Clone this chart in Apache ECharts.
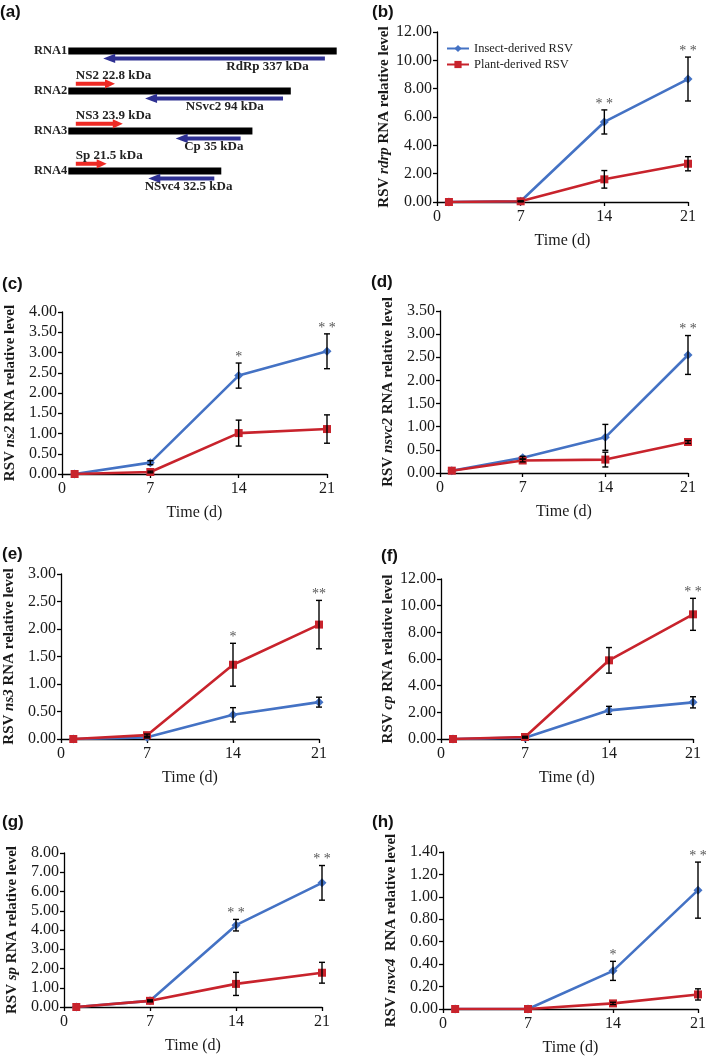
<!DOCTYPE html>
<html><head><meta charset="utf-8">
<script src="https://cdn.jsdelivr.net/npm/echarts@6/dist/echarts.min.js"></script>
<style>html,body{margin:0;padding:0;background:#fff}#c{width:709px;height:1057px}</style>
</head><body><div id="c"></div>
<script>
// ================= DATA =================
const days = [1, 7, 14, 21];
const seriesNames = ['Insect-derived RSV', 'Plant-derived RSV'];

// (b) rdrp
const rdrpInsect = [0, 0.05, 5.65, 8.68];
const rdrpInsectErr = [0, 0.03, 0.85, 1.55];
const rdrpPlant = [0, 0.05, 1.6, 2.7];
const rdrpPlantErr = [0, 0.02, 0.62, 0.5];
const rdrpSig = ['', '', '* *', '* *'];
// (c) ns2
const ns2Insect = [0, 0.28, 2.43, 3.03];
const ns2InsectErr = [0, 0.05, 0.31, 0.43];
const ns2Plant = [0, 0.05, 1.01, 1.11];
const ns2PlantErr = [0, 0.02, 0.32, 0.35];
const ns2Sig = ['', '', '*', '* *'];
// (d) nsvc2
const nsvc2Insect = [0.05, 0.33, 0.77, 2.55];
const nsvc2InsectErr = [0, 0.03, 0.28, 0.42];
const nsvc2Plant = [0.05, 0.27, 0.29, 0.67];
const nsvc2PlantErr = [0, 0.03, 0.16, 0.03];
const nsvc2Sig = ['', '', '', '* *'];
// (e) ns3
const ns3Insect = [0, 0.03, 0.44, 0.67];
const ns3InsectErr = [0, 0.01, 0.13, 0.09];
const ns3Plant = [0, 0.07, 1.35, 2.08];
const ns3PlantErr = [0, 0.02, 0.39, 0.44];
const ns3Sig = ['', '', '*', '**'];
// (f) cp
const cpInsect = [0, 0.1, 2.15, 2.75];
const cpInsectErr = [0, 0.03, 0.3, 0.42];
const cpPlant = [0, 0.15, 5.9, 9.35];
const cpPlantErr = [0, 0.05, 0.96, 1.2];
const cpSig = ['', '', '', '* *'];
// (g) sp
const spInsect = [0, 0.32, 4.25, 6.45];
const spInsectErr = [0, 0.03, 0.3, 0.9];
const spPlant = [0, 0.32, 1.2, 1.78];
const spPlantErr = [0, 0.05, 0.6, 0.54];
const spSig = ['', '', '* *', '* *'];
// (h) nsvc4
const nsvc4Insect = [0, 0, 0.34, 1.06];
const nsvc4InsectErr = [0, 0, 0.085, 0.25];
const nsvc4Plant = [0, 0, 0.05, 0.13];
const nsvc4PlantErr = [0, 0, 0.01, 0.05];
const nsvc4Sig = ['', '', '*', '* *'];

// (a) genome organisation (relative lengths as drawn, RNA1 = 100)
const segments = ['RNA1', 'RNA2', 'RNA3', 'RNA4'];
const segmentLength = [100, 82.9, 68.6, 57.0];
const orfNames = ['RdRp', 'NS2', 'NSvc2', 'NS3', 'Cp', 'Sp', 'NSvc4'];
const orfMass = ['337 kDa', '22.8 kDa', '94 kDa', '23.9 kDa', '35 kDa', '21.5 kDa', '32.5 kDa'];
const orfSegment = [0, 1, 1, 2, 2, 3, 3];
const orfStart = [95.6, 2.8, 80.0, 2.8, 64.2, 2.8, 54.4];
const orfEnd = [13.0, 17.4, 28.6, 20.3, 40.0, 14.3, 29.8];

// ================= LAYOUT / STYLE =================
const serif = '"Liberation Serif", "Times New Roman", serif';
const BLUE = '#4472C4', RED = '#C8232C';
const ARROW_FWD = '#EE2A24', ARROW_REV = '#2E3092';
const orfLabelCenter = [74.2, null, 58.3, null, 54.2, null, 44.8];

const panels = [
  {tag: '(b)', gene: 'rdrp', gap: ' ', ins: rdrpInsect, insE: rdrpInsectErr, pl: rdrpPlant, plE: rdrpPlantErr, sig: rdrpSig, yMax: 12, yStep: 2, grid: [437, 32, 251, 170], lab: [372, 4]},
  {tag: '(c)', gene: 'ns2', gap: ' ', ins: ns2Insect, insE: ns2InsectErr, pl: ns2Plant, plE: ns2PlantErr, sig: ns2Sig, yMax: 4, yStep: 0.5, grid: [62, 312, 265, 162], lab: [2, 276]},
  {tag: '(d)', gene: 'nsvc2', gap: ' ', ins: nsvc2Insect, insE: nsvc2InsectErr, pl: nsvc2Plant, plE: nsvc2PlantErr, sig: nsvc2Sig, yMax: 3.5, yStep: 0.5, grid: [440, 311, 248, 162], lab: [371, 274]},
  {tag: '(e)', gene: 'ns3', gap: ' ', ins: ns3Insect, insE: ns3InsectErr, pl: ns3Plant, plE: ns3PlantErr, sig: ns3Sig, yMax: 3, yStep: 0.5, grid: [61, 574, 258, 165], lab: [2, 546]},
  {tag: '(f)', gene: 'cp', gap: ' ', ins: cpInsect, insE: cpInsectErr, pl: cpPlant, plE: cpPlantErr, sig: cpSig, yMax: 12, yStep: 2, grid: [441, 579, 252, 160], lab: [381, 548]},
  {tag: '(g)', gene: 'sp', gap: ' ', ins: spInsect, insE: spInsectErr, pl: spPlant, plE: spPlantErr, sig: spSig, yMax: 8, yStep: 1, grid: [64, 853, 258, 154], lab: [2, 814]},
  {tag: '(h)', gene: 'nsvc4', gap: '  ', ins: nsvc4Insect, insE: nsvc4InsectErr, pl: nsvc4Plant, plE: nsvc4PlantErr, sig: nsvc4Sig, yMax: 1.4, yStep: 0.2, grid: [443, 852, 258, 158], lab: [372, 814]}
];

const grids = [], xAxes = [], yAxes = [], series = [], titles = [];
const labelColor = '#1a1a1a';

titles.push({text: '(a)', left: 0, top: 4, padding: 0, textStyle: {fontFamily: '"Liberation Sans", Arial, sans-serif', fontWeight: 'bold', fontSize: 17, color: '#111'}});

panels.forEach((p, k) => {
  grids.push({left: p.grid[0], top: p.grid[1], width: p.grid[2], height: p.grid[3]});
  titles.push({text: p.tag, left: p.lab[0], top: p.lab[1], padding: 0, textStyle: {fontFamily: '"Liberation Sans", Arial, sans-serif', fontWeight: 'bold', fontSize: 17, color: '#111'}});
  xAxes.push({
    gridIndex: k, type: 'value', min: 0, max: 21, interval: 7,
    name: 'Time (d)', nameLocation: 'middle', nameGap: 31,
    nameTextStyle: {fontFamily: serif, fontSize: 16, color: labelColor},
    axisLine: {show: true, onZero: false, lineStyle: {color: '#000', width: 1.3}},
    axisTick: {show: true, length: 4, lineStyle: {color: '#000', width: 1.3}},
    splitLine: {show: false},
    axisLabel: {fontFamily: serif, fontSize: 16, color: labelColor, margin: 7}
  });
  yAxes.push({
    gridIndex: k, type: 'value', min: 0, max: p.yMax, interval: p.yStep,
    name: '{n|RSV }{g|' + p.gene + '}{n|' + p.gap + 'RNA relative level}',
    nameLocation: 'middle', nameRotate: 90, nameGap: 44,
    nameTextStyle: {rich: {
      n: {fontFamily: serif, fontSize: 15, fontWeight: 'bold', color: labelColor},
      g: {fontFamily: serif, fontSize: 15, fontStyle: 'italic', fontWeight: 'bold', color: labelColor}
    }},
    axisLine: {show: true, lineStyle: {color: '#000', width: 1.3}},
    axisTick: {show: true, length: 4, lineStyle: {color: '#000', width: 1.3}},
    splitLine: {show: false},
    axisLabel: {fontFamily: serif, fontSize: 16, color: labelColor, margin: 5, formatter: v => v.toFixed(2)}
  });
  series.push({
    name: seriesNames[0], type: 'line', xAxisIndex: k, yAxisIndex: k,
    data: days.map((d, i) => [d, p.ins[i]]),
    symbol: 'diamond', symbolSize: 9, color: BLUE,
    lineStyle: {width: 2.6, color: BLUE}, itemStyle: {color: BLUE}, z: 2
  });
  series.push({
    name: seriesNames[1], type: 'line', xAxisIndex: k, yAxisIndex: k,
    data: days.map((d, i) => [d, p.pl[i]]),
    symbol: 'rect', symbolSize: 8, color: RED,
    lineStyle: {width: 2.6, color: RED}, itemStyle: {color: RED}, z: 3
  });
  const errData = [];
  days.forEach((d, i) => {
    if (p.insE[i] > 0) errData.push([d, p.ins[i] - p.insE[i], p.ins[i] + p.insE[i]]);
    if (p.plE[i] > 0) errData.push([d, p.pl[i] - p.plE[i], p.pl[i] + p.plE[i]]);
  });
  series.push({
    type: 'custom', xAxisIndex: k, yAxisIndex: k, z: 5, silent: true,
    data: errData,
    renderItem: (params, api) => {
      const x = api.value(0);
      const lo = api.coord([x, api.value(1)]), hi = api.coord([x, api.value(2)]);
      const w = 3;
      const st = {stroke: '#000', lineWidth: 1.4};
      return {type: 'group', children: [
        {type: 'line', shape: {x1: lo[0], y1: lo[1], x2: hi[0], y2: hi[1]}, style: st},
        {type: 'line', shape: {x1: lo[0] - w, y1: lo[1], x2: lo[0] + w, y2: lo[1]}, style: st},
        {type: 'line', shape: {x1: hi[0] - w, y1: hi[1], x2: hi[0] + w, y2: hi[1]}, style: st}
      ]};
    }
  });
  const sigText = [], sigData = [];
  days.forEach((d, i) => {
    if (p.sig[i]) {
      sigText.push(p.sig[i]);
      sigData.push([d, Math.max(p.ins[i] + p.insE[i], p.pl[i] + p.plE[i])]);
    }
  });
  series.push({
    type: 'custom', xAxisIndex: k, yAxisIndex: k, z: 6, silent: true,
    data: sigData,
    renderItem: (params, api) => {
      const pt = api.coord([api.value(0), api.value(1)]);
      return {type: 'text', x: pt[0], y: pt[1] + 1, style: {
        text: sigText[params.dataIndex], align: 'center', verticalAlign: 'bottom',
        fontFamily: serif, fontSize: 14, fill: '#555'
      }};
    }
  });
});

// ---- panel (a) ----
const ka = panels.length;
grids.push({left: 68.3, top: 31, width: 268.4, height: 160});
xAxes.push({gridIndex: ka, type: 'value', min: 0, max: 100, show: false});
yAxes.push({
  gridIndex: ka, type: 'category', data: segments, inverse: true,
  axisLine: {show: false}, axisTick: {show: false}, splitLine: {show: false},
  axisLabel: {margin: 1, fontFamily: serif, fontWeight: 'bold', fontSize: 12.5, color: '#222'}
});
series.push({
  type: 'custom', xAxisIndex: ka, yAxisIndex: ka, silent: true,
  data: segmentLength.map((len, i) => [len, i]),
  renderItem: (params, api) => {
    const row = api.value(1);
    const p0 = api.coord([0, row]), p1 = api.coord([api.value(0), row]);
    return {type: 'rect', shape: {x: p0[0], y: p0[1] - 3.6, width: p1[0] - p0[0], height: 7.2}, style: {fill: '#000'}};
  }
});
series.push({
  type: 'custom', xAxisIndex: ka, yAxisIndex: ka, silent: true,
  data: orfStart.map((s, i) => [s, orfEnd[i], orfSegment[i]]),
  renderItem: (params, api) => {
    const i = params.dataIndex;
    const s = api.value(0), e = api.value(1), row = api.value(2);
    const fwd = e > s;
    const ps = api.coord([s, row]), pe = api.coord([e, row]);
    const cy = ps[1] + (fwd ? -7.2 : 7.4);
    const dir = fwd ? 1 : -1;
    const hl = fwd ? 10 : 12, sh = 2, hh = 4.6;
    const xs = ps[0], xe = pe[0], xb = xe - dir * hl;
    const pts = [[xs, cy - sh], [xb, cy - sh], [xb, cy - hh], [xe, cy], [xb, cy + hh], [xb, cy + sh], [xs, cy + sh]];
    const label = orfNames[i] + ' ' + orfMass[i];
    let tx, align;
    if (fwd) { tx = xs; align = 'left'; }
    else { tx = api.coord([orfLabelCenter[i], row])[0]; align = 'center'; }
    const ty = fwd ? cy - 8.5 : cy + 8;
    return {type: 'group', children: [
      {type: 'polygon', shape: {points: pts}, style: {fill: fwd ? ARROW_FWD : ARROW_REV}},
      {type: 'text', x: tx, y: ty, style: {text: label, align: align, verticalAlign: 'middle', fontFamily: serif, fontWeight: 'bold', fontSize: 13, fill: '#222'}}
    ]};
  }
});

const option = {
  animation: false,
  backgroundColor: '#fff',
  title: titles,
  legend: {
    data: seriesNames, left: 446, top: 42, orient: 'vertical', padding: 0,
    itemWidth: 22, itemHeight: 9, itemGap: 3,
    textStyle: {fontFamily: serif, fontSize: 12.5, color: '#222'}
  },
  grid: grids, xAxis: xAxes, yAxis: yAxes, series: series
};
const chart = echarts.init(document.getElementById('c'), null, {renderer: 'canvas'});
chart.setOption(option);
</script>
</body></html>
